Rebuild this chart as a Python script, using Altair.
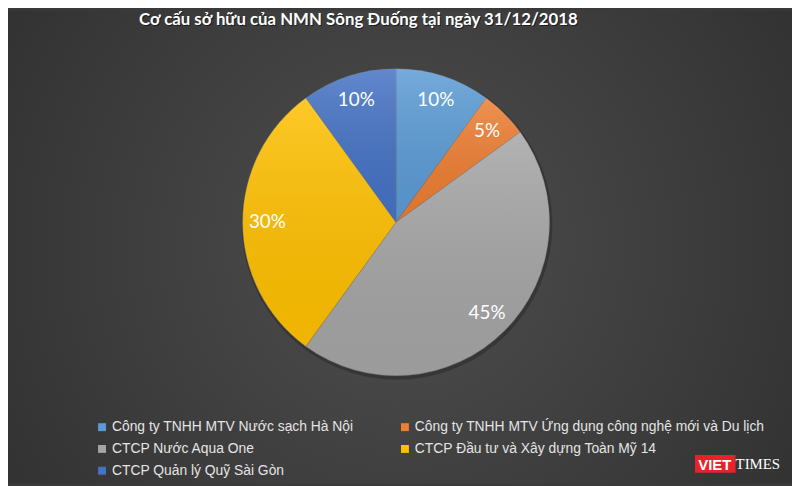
import altair as alt
import pandas as pd

# ---- data ----
owners = [
    "Công ty TNHH MTV Nước sạch Hà Nội",
    "Công ty TNHH MTV Ứng dụng công nghệ mới và Du lịch",
    "CTCP Nước Aqua One",
    "CTCP Đầu tư và Xây dựng Toàn Mỹ 14",
    "CTCP Quản lý Quỹ Sài Gòn",
]
shares = [10, 5, 45, 30, 10]
labels = ["10%", "5%", "45%", "30%", "10%"]
colors = ["#5B9BD5", "#ED7D31", "#A5A5A5", "#FFC000", "#4472C4"]
title_text = "Cơ cấu sở hữu của NMN Sông Đuống tại ngày 31/12/2018"

df = pd.DataFrame({"owner": owners, "share": shares, "label": labels,
                   "idx": list(range(len(owners)))})

# legend is filled column by column: put items so that rows read as in the reference
legend_order = [0, 2, 4, 1, 3]
domain = [owners[i] for i in legend_order]
rng = [colors[i] for i in legend_order]

W, H = 792, 478
CX, CY, R = 392, 214, 155

bg = alt.Chart(alt.Data(values=[{}])).mark_rect(
    color=alt.Gradient(
        gradient="radial", x1=0.5, y1=0.5, r1=0, x2=0.5, y2=0.5, r2=0.8,
        stops=[alt.GradientStop(offset=0, color="#4e4e4e"),
               alt.GradientStop(offset=1, color="#282828")])
).encode(x=alt.value(0), x2=alt.value(W), y=alt.value(0), y2=alt.value(H))

shadow = alt.Chart(alt.Data(values=[{}])).mark_arc(
    theta=0, theta2=6.2832, radius=R + 2, color="#1a1a1a", opacity=0.35
).encode(x=alt.value(CX + 1), y=alt.value(CY + 2))

theta = alt.Theta("share:Q", stack=True)
order = alt.Order("idx:Q")

pie = alt.Chart(df).mark_arc(radius=R, stroke="#7a7a7a", strokeWidth=0.4).encode(
    theta=theta, order=order,
    color=alt.Color("owner:N", scale=alt.Scale(domain=domain, range=rng),
                    legend=alt.Legend(title=None, orient="none", columns=2,
                                      legendX=88, legendY=414, padding=0,
                                      symbolType="square", symbolSize=64,
                                      symbolStrokeWidth=0, columnPadding=44,
                                      rowPadding=8, labelFontSize=14,
                                      labelFont="Liberation Sans",
                                      labelColor="#e4e4e4", labelLimit=400,
                                      symbolOffset=0, labelOffset=3)),
    x=alt.value(CX), y=alt.value(CY),
)

gloss = alt.Chart(df).mark_arc(
    radius=R,
    color=alt.Gradient(
        gradient="linear", x1=0, y1=0, x2=0, y2=1,
        stops=[alt.GradientStop(offset=0, color="rgba(255,255,255,0.16)"),
               alt.GradientStop(offset=1, color="rgba(0,0,0,0.06)")])
).encode(theta=theta, order=order, x=alt.value(CX), y=alt.value(CY))

text = alt.Chart(df).mark_text(radius=130, fontSize=19, font="Lato",
                               color="white").encode(
    theta=theta, order=order, text="label:N", x=alt.value(CX), y=alt.value(CY))

title_data = alt.Data(values=[{"t": title_text}])
title_shadow = alt.Chart(title_data).mark_text(
    fontSize=17, font="Lato", fontWeight="bold", color="#111111", opacity=0.7
).encode(text="t:N", x=alt.value(355), y=alt.value(11))
title = alt.Chart(title_data).mark_text(
    fontSize=17, font="Lato", fontWeight="bold", color="white"
).encode(text="t:N", x=alt.value(354), y=alt.value(10))

logo_box = alt.Chart(alt.Data(values=[{}])).mark_rect(color="#e8212a").encode(
    x=alt.value(694), x2=alt.value(735), y=alt.value(449), y2=alt.value(467))
logo_viet = alt.Chart(alt.Data(values=[{"t": "VIET"}])).mark_text(
    fontSize=15, font="Liberation Sans", fontWeight="bold", color="white").encode(
    text="t:N", x=alt.value(714), y=alt.value(459))
logo_times = alt.Chart(alt.Data(values=[{"t": "TIMES"}])).mark_text(
    fontSize=15, font="Liberation Serif", color="white", align="left").encode(
    text="t:N", x=alt.value(735), y=alt.value(458))

chart = alt.layer(bg, shadow, pie, gloss, text, title_shadow, title, logo_box,
                  logo_viet, logo_times).properties(
    width=W, height=H,
    autosize=alt.AutoSizeParams(type="fit", contains="padding"),
    padding=0, background="#3a3a3a",
).configure_view(stroke=None)

chart.save("out.html", embed_options={"renderer": "svg", "actions": False})
